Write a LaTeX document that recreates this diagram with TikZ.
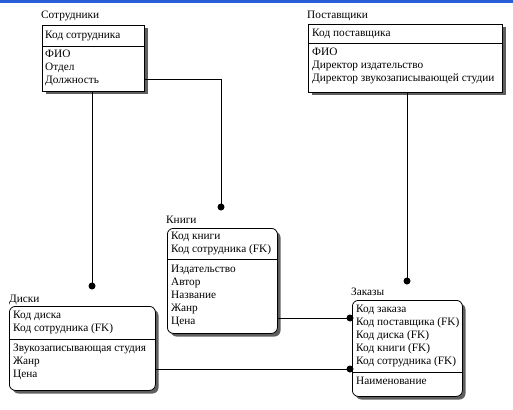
\documentclass[tikz,border=0pt]{standalone}
\usepackage{fontspec}
\setmainfont{Liberation Serif}
\definecolor{barblue}{RGB}{40,95,215}
\definecolor{shadowgray}{RGB}{95,95,95}
\begin{document}
\begin{tikzpicture}[x=1pt,y=-1pt,
  ent/.style={draw=black, fill=white, line width=0.8pt, anchor=north west, inner sep=0pt},
  rent/.style={ent, rounded corners=6pt},
  shad/.style={fill=shadowgray},
  lbl/.style={anchor=base west, inner sep=0pt, font=\fontsize{11.3}{13}\selectfont},
  fkdot/.style={circle, fill=black, inner sep=0pt, minimum size=7pt},
  conn/.style={draw=black, line width=0.8pt}]
\useasboundingbox (0,0) rectangle (513,409);
\fill[barblue] (0,0) rectangle (513,3);
% shadows
\fill[shad] (45.5,28.5) rectangle (147.5,94.5);
\fill[shad] (311.5,27.5) rectangle (505.5,95.5);
\fill[shad, rounded corners=6pt] (170.5,231.5) rectangle (280.5,336.5);
\fill[shad, rounded corners=6pt] (12.5,309.5) rectangle (158.5,393.5);
\fill[shad, rounded corners=6pt] (355.5,303.5) rectangle (465.5,399.5);
% Сотрудники
\node[lbl] (tsotr) at (41,19) {Сотрудники};
\node[ent, minimum width=102pt, minimum height=66pt] (sotr) at (42,25) {};
\draw[line width=0.6pt] (42,46) -- (144,46);
\node[lbl] (s1) at (45,39) {Код сотрудника};
\node[lbl] (s2) at (45,58) {ФИО};
\node[lbl] (s3) at (45,71) {Отдел};
\node[lbl] (s4) at (45,84) {Должность};
% Поставщики
\node[lbl] (tpost) at (307,19) {Поставщики};
\node[ent, minimum width=194pt, minimum height=68pt] (post) at (308,24) {};
\draw[line width=0.6pt] (308,43) -- (502,43);
\node[lbl] (p1) at (312,37) {Код поставщика};
\node[lbl] (p2) at (312,56) {ФИО};
\node[lbl] (p3) at (312,69) {Директор издательство};
\node[lbl] (p4) at (312,82) {Директор звукозаписывающей студии};
% Книги
\node[lbl] (tknig) at (166,223) {Книги};
\node[rent, minimum width=110pt, minimum height=105pt] (knig) at (167,228) {};
\draw[line width=0.6pt] (167,259) -- (277,259);
\node[lbl] (k1) at (171,239) {Код книги};
\node[lbl] (k2) at (171,252) {Код сотрудника (FK)};
\node[lbl] (k3) at (171,272) {Издательство};
\node[lbl] (k4) at (171,285) {Автор};
\node[lbl] (k5) at (171,298) {Название};
\node[lbl] (k6) at (171,311) {Жанр};
\node[lbl] (k7) at (171,324) {Цена};
% Диски
\node[lbl] (tdisk) at (9,302) {Диски};
\node[rent, minimum width=146pt, minimum height=84pt] (disk) at (9,306) {};
\draw[line width=0.6pt] (9,339) -- (155,339);
\node[lbl] (d1) at (13,318) {Код диска};
\node[lbl] (d2) at (13,331) {Код сотрудника (FK)};
\node[lbl] (d3) at (13,351) {Звукозаписывающая студия};
\node[lbl] (d4) at (13,364) {Жанр};
\node[lbl] (d5) at (13,377) {Цена};
% Заказы
\node[lbl] (tzak) at (351,295) {Заказы};
\node[rent, minimum width=110pt, minimum height=96pt] (zak) at (352,300) {};
\draw[line width=0.6pt] (352,372) -- (462,372);
\node[lbl] (z1) at (356,312) {Код заказа};
\node[lbl] (z2) at (356,325) {Код поставщика (FK)};
\node[lbl] (z3) at (356,338) {Код диска (FK)};
\node[lbl] (z4) at (356,351) {Код книги (FK)};
\node[lbl] (z5) at (356,364) {Код сотрудника (FK)};
\node[lbl] (z6) at (356,384) {Наименование};
% dots
\node[fkdot] (dk) at (221,207) {};
\node[fkdot] (dd) at (92,286) {};
\node[fkdot] (dz1) at (407,281) {};
\node[fkdot] (dz2) at (350,318) {};
\node[fkdot] (dz3) at (350,369) {};
% connectors
\draw[conn] (sotr.east |- 0,79) -| (dk.center);
\draw[conn] (sotr.south -| dd) -- (dd.center);
\draw[conn] (post.south -| dz1) -- (dz1.center);
\draw[conn] (knig.east |- dz2) -- (dz2.center);
\draw[conn] (disk.east |- dz3) -- (dz3.center);
\end{tikzpicture}
\end{document}
